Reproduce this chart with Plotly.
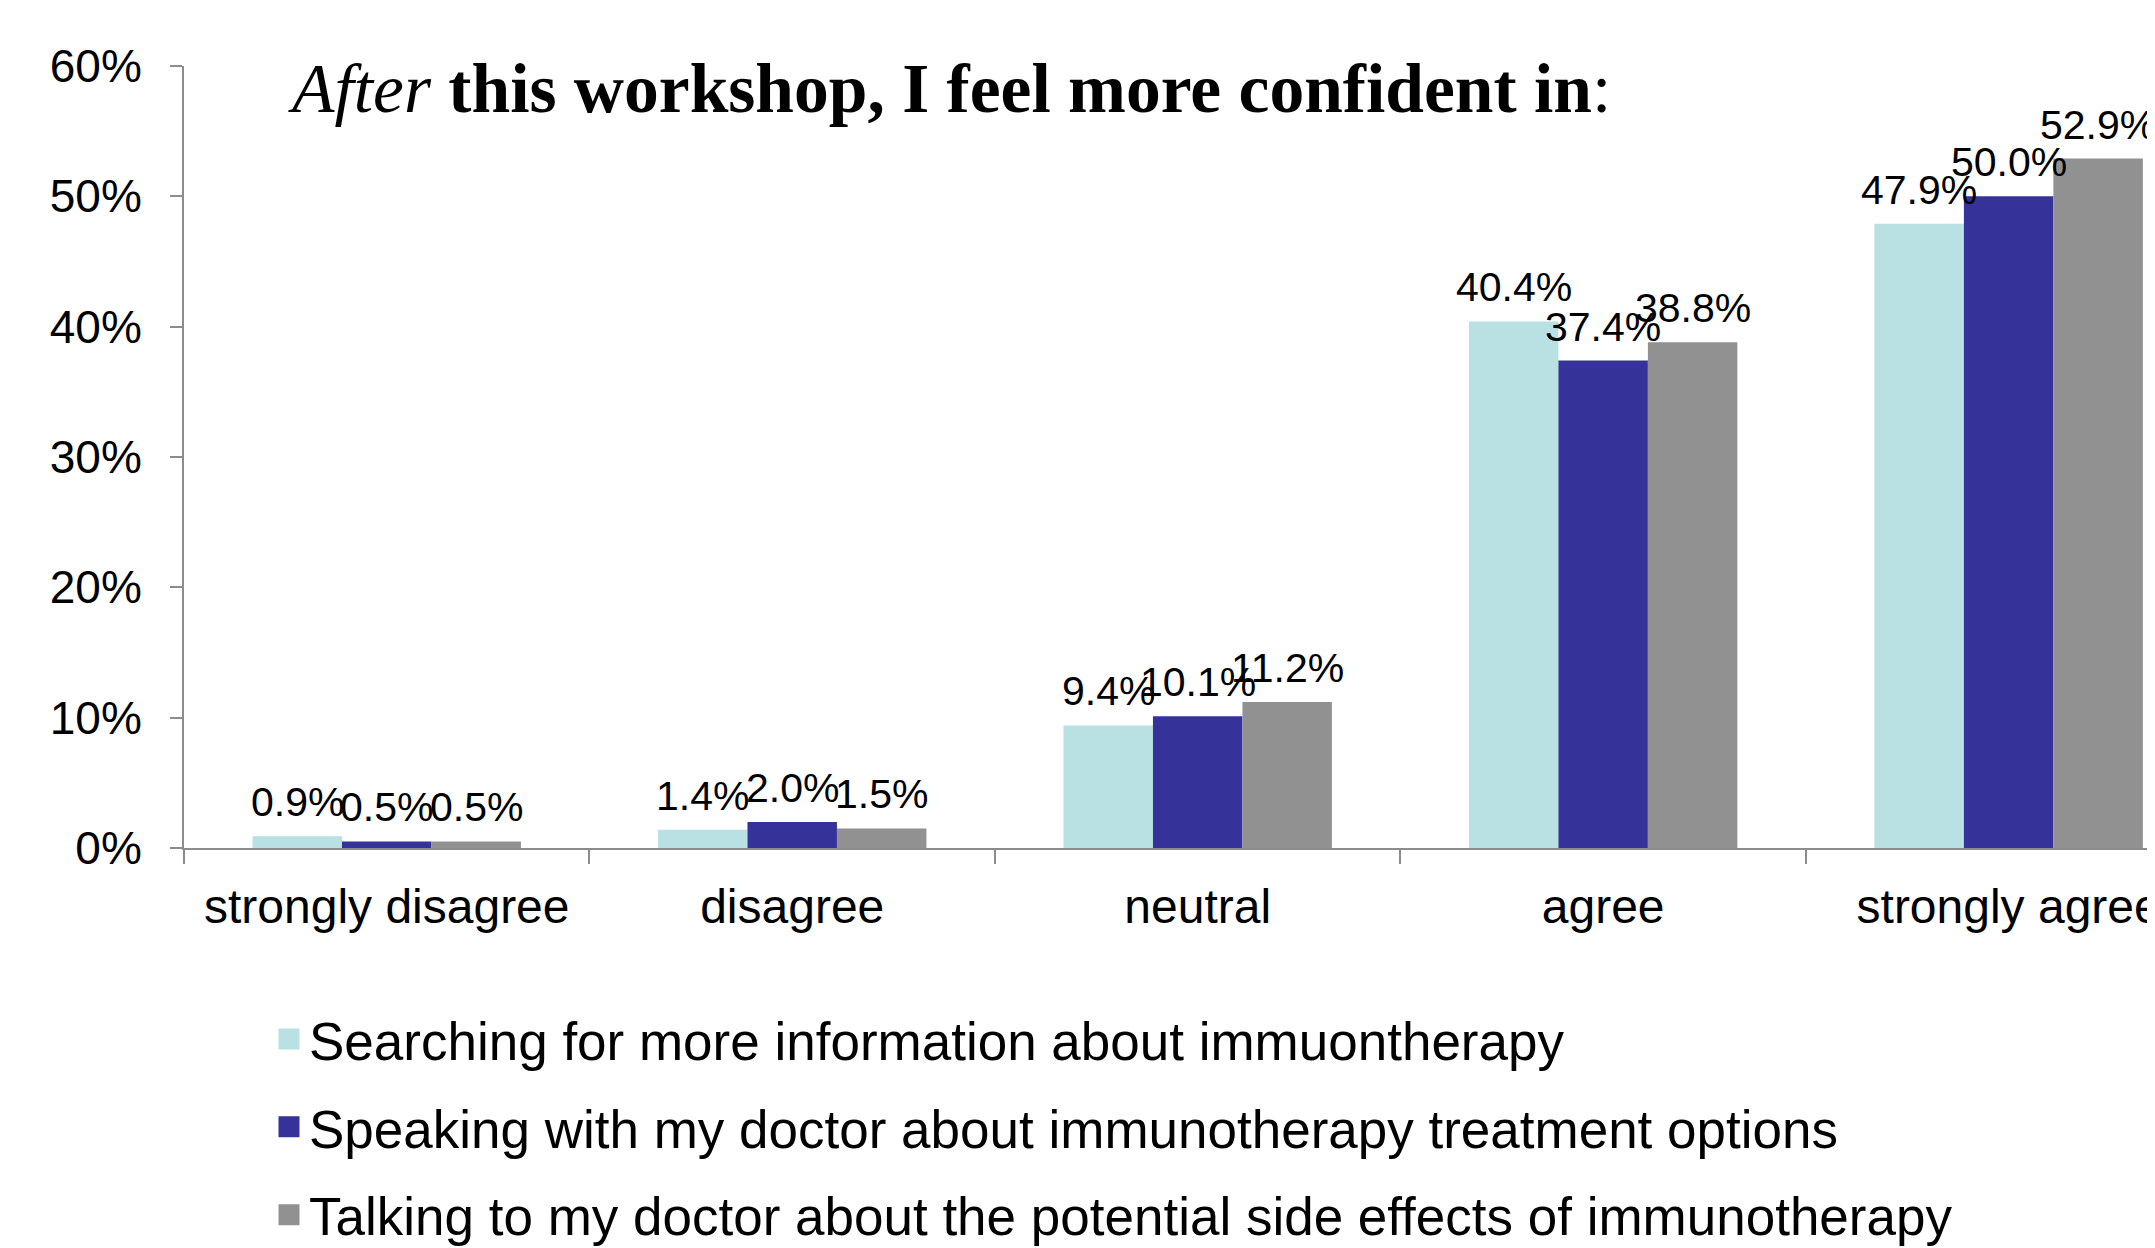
import plotly.graph_objects as go

categories = ["strongly disagree", "disagree", "neutral", "agree", "strongly agree"]
searching = [0.9, 1.4, 9.4, 40.4, 47.9]
speaking = [0.5, 2.0, 10.1, 37.4, 50.0]
talking = [0.5, 1.5, 11.2, 38.8, 52.9]
series_names = [
    "Searching for more information about immuontherapy",
    "Speaking with my doctor about immunotherapy treatment options",
    "Talking to my doctor about the potential side effects of immunotherapy",
]
y_tick_vals = [0, 10, 20, 30, 40, 50, 60]
y_tick_text = ["0%", "10%", "20%", "30%", "40%", "50%", "60%"]

colors = ["#B9E0E3", "#353399", "#919191"]
SANS = "Liberation Sans, Arial, sans-serif"
AXIS = "#8c8c8c"

# layout geometry (figure pixels)
W, H = 2155, 1248
ML, MR, MT, MB = 176, 8, 58, 408
X_MAX = 4.361
BARGAP = 0.338
plot_w = W - ML - MR
cat_px = plot_w / (X_MAX + 0.5)
bar_px = cat_px * (1 - BARGAP) / 3

fig = go.Figure()
all_vals = [searching, speaking, talking]
for i, (name, vals, col) in enumerate(zip(series_names, all_vals, colors)):
    fig.add_trace(go.Bar(
        x=categories, y=vals, name=name,
        marker=dict(color=col, line=dict(width=0)),
        showlegend=False, hoverinfo="skip",
    ))
    for c, v in zip(categories, vals):
        fig.add_annotation(
            x=c, y=v, xref="x", yref="y", text=f"{v:.1f}%",
            showarrow=False, xanchor="center", yanchor="bottom",
            xshift=(i - 1) * bar_px, yshift=9,
            font=dict(family=SANS, size=41, color="black"),
        )
for i, (name, col) in enumerate(zip(series_names, colors)):
    fig.add_trace(go.Scatter(
        x=[categories[0]], y=[None], mode="markers", name=name,
        marker=dict(symbol="square", size=16, color=col, line=dict(color=col, width=5)),
        legendgroup=f"g{i}", showlegend=True, hoverinfo="skip",
    ))

fig.add_annotation(
    text="<i>After</i><b> this workshop, I feel more confident in</b>:",
    xref="paper", yref="paper", x=(286 - 184) / 1971, y=1 - (88 - 66) / 782,
    xanchor="left", yanchor="middle", showarrow=False,
    font=dict(family="Liberation Serif, Times New Roman, serif", size=69.5, color="black"),
)

fig.update_layout(
    width=W, height=H,
    margin=dict(l=ML, r=MR, t=MT, b=MB, pad=0, autoexpand=False),
    paper_bgcolor="white", plot_bgcolor="white",
    barmode="group", bargap=BARGAP, bargroupgap=0,
    font=dict(family=SANS, color="black"),
    legend=dict(
        xref="container", yref="container",
        x=(309 - 48) / W, y=1 - 990 / H,
        xanchor="left", yanchor="top",
        font=dict(family=SANS, size=53, color="black"),
        tracegroupgap=16, bgcolor="rgba(0,0,0,0)",
    ),
    xaxis=dict(
        type="category", categoryorder="array", categoryarray=categories,
        range=[-0.5, X_MAX], showline=True, linecolor=AXIS, linewidth=2,
        ticks="outside", tickson="boundaries", ticklen=14, tickcolor=AXIS, tickwidth=2,
        tickfont=dict(family=SANS, size=48, color="black"), tickangle=0,
        showgrid=False, zeroline=False, ticklabelstandoff=15,
    ),
    yaxis=dict(
        range=[0, 60], tickvals=y_tick_vals, ticktext=y_tick_text,
        showline=True, linecolor=AXIS, linewidth=2,
        ticks="outside", ticklen=12, tickcolor=AXIS, tickwidth=2,
        tickfont=dict(family=SANS, size=46, color="black"),
        showgrid=False, zeroline=False, ticklabelstandoff=19,
    ),
)

fig.write_html("out.html")
